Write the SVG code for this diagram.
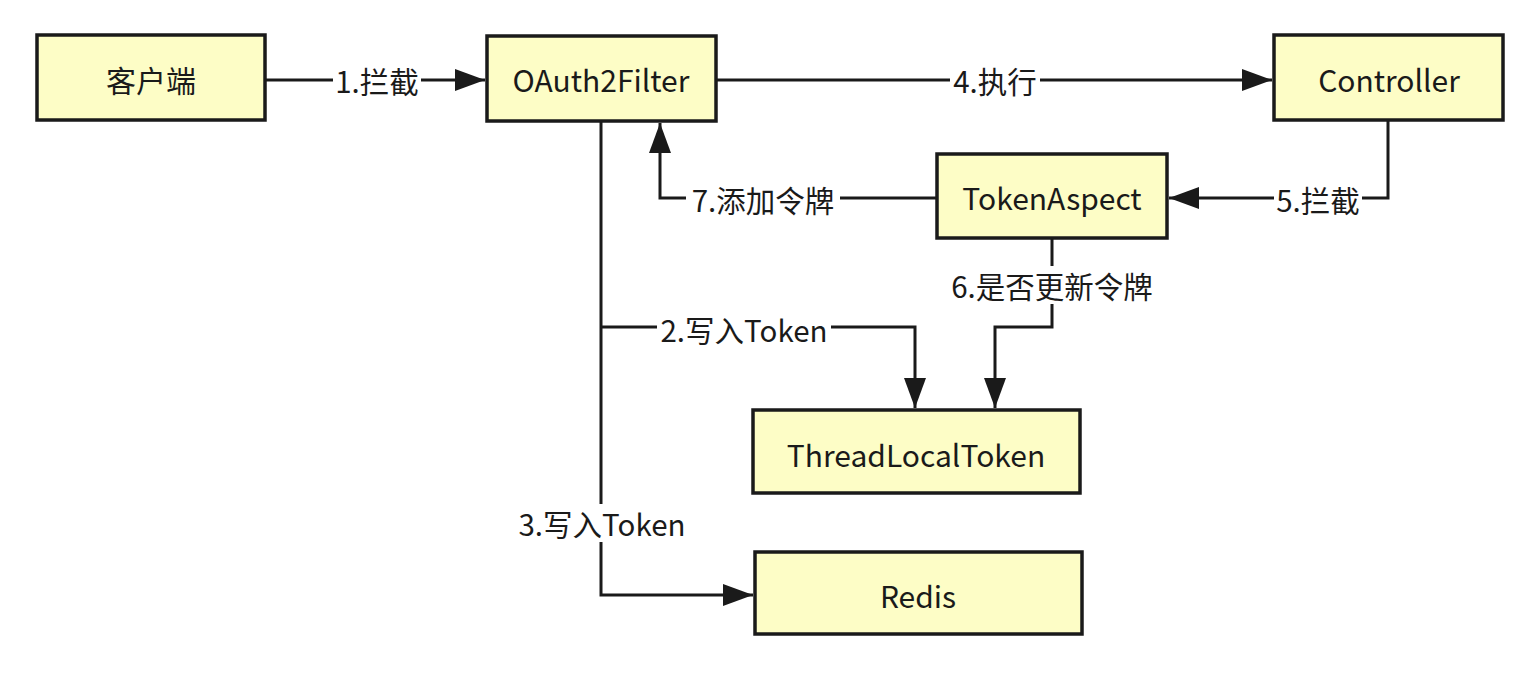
<svg xmlns="http://www.w3.org/2000/svg" width="1529" height="694" viewBox="0 0 1529 694">
<style>
.node rect{fill:#fdfdc6;stroke:#1a1a1a;stroke-width:3.5}
.node text{font-family:"Segoe UI","Noto Sans CJK SC","Open Sans",sans-serif;font-size:30px;fill:#1a1a1a;text-anchor:middle;dominant-baseline:central}
.edge{fill:none;stroke:#1a1a1a;stroke-width:3}
.lbl rect{fill:#ffffff}
.lbl text{font-family:"Noto Sans CJK SC","Open Sans",sans-serif;font-size:29.5px;fill:#1a1a1a;text-anchor:middle;dominant-baseline:central}
</style>
<defs>
<marker id="ah" markerUnits="userSpaceOnUse" markerWidth="32" markerHeight="24" refX="30" refY="11" orient="auto">
<path d="M0,0 L30,11 L0,22 Z" fill="#1a1a1a"/>
</marker>
</defs>
<rect width="1529" height="694" fill="#ffffff"/>
<g id="connectors">
<path class="edge" d="M265,80 H485" marker-end="url(#ah)"/>
<path class="edge" d="M716,80 H1272" marker-end="url(#ah)"/>
<path class="edge" d="M1388,120 V198 H1169" marker-end="url(#ah)"/>
<path class="edge" d="M937,198 H660 V123" marker-end="url(#ah)"/>
<path class="edge" d="M601,121 V595 H753" marker-end="url(#ah)"/>
<path class="edge" d="M601,327 H915 V408" marker-end="url(#ah)"/>
<path class="edge" d="M1052,238 V327 H995 V408" marker-end="url(#ah)"/>
<g class="lbl">
<rect x="333" y="62" width="88" height="36"/><text x="377" y="80">1.拦截</text>
<rect x="950" y="62" width="90" height="36"/><text x="995" y="80">4.执行</text>
<rect x="1274" y="181" width="88" height="36"/><text x="1318" y="199">5.拦截</text>
<rect x="686" y="181" width="154" height="36"/><text x="763" y="199">7.添加令牌</text>
<rect x="657" y="311" width="174" height="36"/><text x="744" y="329">2.写入Token</text>
<rect x="514" y="504" width="176" height="38"/><text x="602" y="523">3.写入Token</text>
<rect x="946" y="266" width="212" height="38"/><text x="1052" y="285">6.是否更新令牌</text>
</g>
</g>
<g id="client" class="node"><rect x="37" y="35" width="228" height="85"/><text x="151" y="79">客户端</text></g>
<g id="oauth2filter" class="node"><rect x="487" y="36" width="229" height="85"/><text x="601" y="79">OAuth2Filter</text></g>
<g id="controller" class="node"><rect x="1274" y="35" width="229" height="85"/><text x="1389" y="79">Controller</text></g>
<g id="tokenaspect" class="node"><rect x="937" y="154" width="230" height="84"/><text x="1052" y="197">TokenAspect</text></g>
<g id="threadlocaltoken" class="node"><rect x="753" y="410" width="327" height="83"/><text x="916" y="454">ThreadLocalToken</text></g>
<g id="redis" class="node"><rect x="755" y="552" width="327" height="82"/><text x="918" y="595">Redis</text></g>
</svg>
